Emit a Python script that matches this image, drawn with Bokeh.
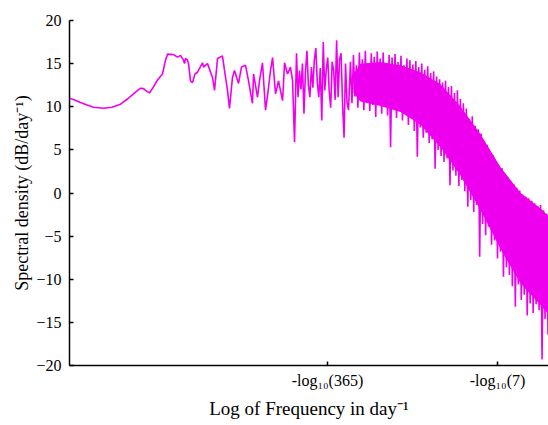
from bokeh.plotting import figure
from bokeh.models import Range1d, FixedTicker
from bokeh.embed import file_html
from bokeh.resources import INLINE

# ---- data ----
# log10 of frequency (day^-1) and spectral density (dB/day^-1)
smooth_logf = [-5.168, -5.110, -5.057, -4.990, -4.926, -4.825, -4.740, -4.653, -4.582, -4.522,
               -4.451, -4.420, -4.400, -4.360, -4.320, -4.279, -4.229, -4.198, -4.178, -4.117,
               -4.077, -4.047, -4.016, -4.006, -3.996, -3.976, -3.966, -3.946, -3.926, -3.900,
               -3.875]
smooth_db = [11.0, 10.75, 10.5, 10.2, 9.95, 9.83, 9.95, 10.3, 10.9, 11.5,
             12.15, 12.1, 11.9, 11.6, 12.3, 13.1, 13.8, 15.4, 16.1, 16.05,
             15.75, 15.95, 15.4, 15.0, 15.6, 15.4, 15.0, 13.0, 12.8, 13.8,
             14.0]

mid_logf = [-3.825, -3.814, -3.774, -3.724, -3.703, -3.673, -3.623, -3.602, -3.572, -3.552,
            -3.522, -3.501, -3.461, -3.431, -3.390, -3.360, -3.320, -3.309, -3.269, -3.249,
            -3.219, -3.188, -3.158, -3.138, -3.117, -3.087, -3.057, -3.016, -2.996, -2.966,
            -2.936, -2.915, -2.895, -2.875]
mid_db = [15.1, 14.6, 15.0, 13.4, 11.9, 15.6, 15.9, 14.2, 11.9, 9.8,
          13.4, 14.2, 12.7, 14.6, 14.8, 13.0, 10.4, 13.8, 11.1, 13.0,
          15.1, 9.6, 12.2, 14.2, 15.7, 11.5, 13.0, 10.7, 15.1, 13.8,
          14.6, 13.0, 5.9, 16.2]

busy_logf = [-2.860, -2.845, -2.830, -2.815, -2.800, -2.785, -2.770, -2.755, -2.740, -2.725,
             -2.710, -2.695, -2.680, -2.665, -2.650, -2.635, -2.620, -2.605, -2.590, -2.575,
             -2.560, -2.545, -2.530, -2.515, -2.500, -2.485, -2.470, -2.455, -2.440, -2.425,
             -2.410, -2.395, -2.380, -2.365, -2.350]
busy_db = [11.1, 14.2, 12.0, 15.0, 9.2, 14.0, 16.5, 12.5, 11.1, 14.6,
           12.2, 15.4, 16.8, 12.8, 11.1, 14.5, 8.4, 17.5, 11.9, 14.3,
           15.7, 11.8, 9.9, 15.2, 14.2, 10.8, 17.7, 11.1, 15.5, 16.2,
           10.3, 6.4, 15.0, 10.5, 9.6]

dense_logf = [-2.330, -2.315, -2.300, -2.285, -2.270, -2.255, -2.240, -2.225, -2.210, -2.195,
              -2.180, -2.165, -2.150, -2.135, -2.120, -2.105, -2.090, -2.075, -2.060, -2.045,
              -2.030, -2.015, -2.000, -1.985, -1.970, -1.955, -1.940, -1.925, -1.910, -1.895,
              -1.880, -1.865, -1.850, -1.835, -1.820, -1.805, -1.790, -1.775, -1.760, -1.745,
              -1.730, -1.715, -1.700, -1.685, -1.670, -1.655, -1.640, -1.625, -1.610, -1.595,
              -1.580, -1.565, -1.550, -1.535, -1.520, -1.505, -1.490, -1.475, -1.460, -1.445,
              -1.430, -1.415, -1.400, -1.385, -1.370, -1.355, -1.340, -1.325, -1.310, -1.295,
              -1.280, -1.265, -1.250, -1.235, -1.220, -1.205, -1.190, -1.175, -1.160, -1.145,
              -1.130, -1.115, -1.100, -1.085, -1.070, -1.055, -1.040, -1.025, -1.010, -0.995,
              -0.980, -0.965, -0.950, -0.935, -0.920, -0.905, -0.890, -0.875, -0.860, -0.845,
              -0.830, -0.815, -0.800, -0.785, -0.770, -0.755, -0.740, -0.725, -0.710, -0.695,
              -0.680, -0.665, -0.650, -0.635, -0.620, -0.605, -0.590, -0.575, -0.560, -0.545,
              -0.530, -0.515, -0.500, -0.485, -0.470, -0.455, -0.440, -0.425, -0.410, -0.395,
              -0.380, -0.365, -0.350, -0.335]
dense_db = [15.2, 10.4, 16.0, 11.2, 14.8, 9.9, 16.3, 10.8, 15.5, 9.6,
            16.5, 11.0, 15.0, 9.5, 16.2, 10.2, 15.8, 8.8, 16.4, 10.5,
            15.6, 9.2, 16.3, 10.8, 14.9, 9.0, 16.0, 5.3, 15.7, 9.8,
            16.1, 8.7, 15.2, 10.0, 15.9, 8.4, 14.8, 9.2, 15.6, 7.9,
            15.4, 8.8, 14.9, 7.2, 15.3, 4.2, 14.6, 7.6, 15.0, 6.4,
            14.3, 7.0, 14.7, 5.8, 13.9, 6.2, 14.1, 2.8, 13.5, 5.0,
            13.2, 4.3, 12.8, 3.6, 13.0, 4.0, 12.3, 0.9, 12.4, 2.6,
            11.6, 2.0, 11.9, 0.8, 10.9, 1.5, 10.4, 0.2, 9.8, -1.6,
            8.6, -0.8, 8.9, -2.2, 7.8, -1.4, 7.4, -7.4, 6.9, -3.6,
            6.0, -4.9, 5.6, -3.9, 4.8, -6.0, 4.4, -5.5, 3.6, -7.6,
            3.2, -6.8, 2.9, -9.7, 2.2, -8.6, 1.8, -9.5, 1.3, -10.8,
            1.0, -13.2, 0.6, -10.6, 0.3, -12.4, -0.2, -11.8, -0.4, -14.2,
            -0.6, -12.8, -0.9, -13.9, -1.2, -12.9, -1.5, -13.6, -1.4, -19.3,
            -2.0, -14.6, -2.4, -16.4]

# solid core of the dense high-frequency band (where the trace fills completely)
core_logf = [-2.300, -2.229, -2.027, -1.825, -1.623, -1.420, -1.218, -1.016, -0.814, -0.612, -0.410, -0.335]
core_top_db = [13.8, 15.0, 15.2, 14.8, 14.0, 12.6, 10.0, 6.8, 3.0, 0.0, -1.8, -2.6]
core_bottom_db = [11.6, 10.6, 10.1, 9.4, 7.9, 5.3, 2.0, -2.0, -6.5, -10.5, -13.0, -14.0]

x_tick_values = [-2.5623, -0.8451]          # -log10(365), -log10(7)
x_tick_labels = ["-log\u2081\u2080(365)", "-log\u2081\u2080(7)"]
y_ticks = [-20, -15, -10, -5, 0, 5, 10, 15, 20]

logf = smooth_logf + mid_logf + busy_logf + dense_logf
db = smooth_db + mid_db + busy_db + dense_db

FONT = "Liberation Serif"
COLOR = "#EE00EE"

p = figure(width=548, height=425, output_backend="svg", toolbar_location=None,
           x_range=Range1d(-5.168, -0.330), y_range=Range1d(-20, 20),
           min_border_left=69, min_border_right=0, min_border_top=20, min_border_bottom=60)
p.outline_line_color = None
p.grid.visible = False
p.background_fill_color = "white"

p.varea(x=core_logf, y1=core_bottom_db, y2=core_top_db, fill_color=COLOR, fill_alpha=1.0)
p.line(logf, db, line_color=COLOR, line_width=1.6)

p.xaxis.ticker = FixedTicker(ticks=x_tick_values)
p.xaxis.major_label_overrides = {v: l for v, l in zip(x_tick_values, x_tick_labels)}
p.yaxis.ticker = FixedTicker(ticks=y_ticks)

for ax in (p.xaxis[0], p.yaxis[0]):
    ax.axis_line_color = "black"
    ax.axis_line_width = 1.5
    ax.major_tick_in = 4
    ax.major_tick_out = 0
    ax.major_tick_line_width = 1.5
    ax.minor_tick_line_color = None
    ax.major_label_text_font = FONT
    ax.major_label_text_font_size = "16px"
    ax.major_label_text_color = "black"
    ax.axis_label_text_font = FONT
    ax.axis_label_text_font_style = "normal"
    ax.axis_label_text_color = "black"

p.xaxis.axis_label_text_font_size = "19px"
p.yaxis.axis_label_text_font_size = "18px"
p.xaxis.axis_label = "Log of Frequency in day\u207b\u00b9"
p.yaxis.axis_label = "Spectral density (dB/day\u207b\u00b9)"
p.xaxis.major_label_standoff = 6
p.yaxis.major_label_standoff = 8
p.xaxis.axis_label_standoff = 6
p.yaxis.axis_label_standoff = 1

open("out.html", "w").write(file_html(p, INLINE))
